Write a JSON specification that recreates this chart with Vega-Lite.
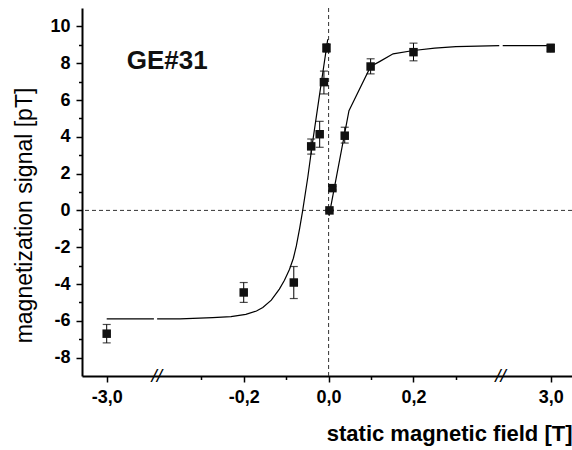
{
  "$schema": "https://vega.github.io/schema/vega-lite/v6.json",
  "width": 490,
  "height": 368,
  "autosize": {"type": "none"},
  "padding": {"left": 82, "top": 8, "right": 0, "bottom": 74},
  "background": "white",
  "config": {
    "view": {"stroke": null},
    "font": "Liberation Sans",
    "axis": {
      "grid": false,
      "domainColor": "black",
      "domainWidth": 2,
      "tickColor": "black",
      "tickWidth": 1.5,
      "tickSize": 6,
      "labelFont": "Liberation Sans",
      "labelFontSize": 18,
      "labelFontWeight": "bold",
      "labelColor": "black",
      "labelPadding": 6,
      "labelFlush": false,
      "titleFont": "Liberation Sans",
      "titleColor": "black"
    }
  },
  "datasets": {
    "pts": [
      {"x": -3.0, "y": -6.7, "lo": -7.2, "hi": -6.2},
      {"x": -0.2, "y": -4.46, "lo": -5.0, "hi": -3.92},
      {"x": -0.082, "y": -3.92, "lo": -4.79, "hi": -3.05},
      {"x": -0.041, "y": 3.48, "lo": 3.06, "hi": 3.88},
      {"x": -0.021, "y": 4.14, "lo": 3.43, "hi": 4.84},
      {"x": -0.011, "y": 6.97, "lo": 6.33, "hi": 7.57},
      {"x": -0.005, "y": 8.83, "lo": 8.6, "hi": 9.05},
      {"x": 0.002, "y": 0.0, "lo": -0.05, "hi": 0.05},
      {"x": 0.009, "y": 1.21, "lo": 1.11, "hi": 1.31},
      {"x": 0.038, "y": 4.06, "lo": 3.66, "hi": 4.52},
      {"x": 0.099, "y": 7.82, "lo": 7.42, "hi": 8.24},
      {"x": 0.2, "y": 8.6, "lo": 8.13, "hi": 9.09},
      {"x": 3.0, "y": 8.82, "lo": 8.6, "hi": 9.04}
    ],
    "curve": [
      {"seg": "L1", "x": -3.0, "y": -5.9},
      {"seg": "L1", "x": -0.55, "y": -5.9},
      {"seg": "L2", "x": -0.404, "y": -5.9},
      {"seg": "L2", "x": -0.35, "y": -5.9},
      {"seg": "L2", "x": -0.273, "y": -5.83},
      {"seg": "L2", "x": -0.23, "y": -5.77},
      {"seg": "L2", "x": -0.195, "y": -5.65},
      {"seg": "L2", "x": -0.17, "y": -5.47},
      {"seg": "L2", "x": -0.155, "y": -5.28},
      {"seg": "L2", "x": -0.135, "y": -4.88},
      {"seg": "L2", "x": -0.116, "y": -4.28},
      {"seg": "L2", "x": -0.104, "y": -3.8},
      {"seg": "L2", "x": -0.092, "y": -3.2},
      {"seg": "L2", "x": -0.083, "y": -2.6},
      {"seg": "L2", "x": -0.076, "y": -1.93},
      {"seg": "L2", "x": -0.068, "y": -0.95},
      {"seg": "L2", "x": -0.061, "y": 0.0},
      {"seg": "L2", "x": -0.049, "y": 1.8},
      {"seg": "L2", "x": -0.039, "y": 3.5},
      {"seg": "L2", "x": -0.02, "y": 6.5},
      {"seg": "L2", "x": -0.002, "y": 9.3},
      {"seg": "R1", "x": 0.001, "y": -0.3},
      {"seg": "R1", "x": 0.048, "y": 5.42},
      {"seg": "R1", "x": 0.099, "y": 7.82},
      {"seg": "R1", "x": 0.121, "y": 8.1},
      {"seg": "R1", "x": 0.152, "y": 8.51},
      {"seg": "R1", "x": 0.2, "y": 8.69},
      {"seg": "R1", "x": 0.25, "y": 8.82},
      {"seg": "R1", "x": 0.3, "y": 8.9},
      {"seg": "R1", "x": 0.402, "y": 8.95},
      {"seg": "R2", "x": 0.52, "y": 8.95},
      {"seg": "R2", "x": 3.0, "y": 8.95}
    ],
    "labels": [
      {"x": -1.96, "y": 7.69, "t": "GE#31"}
    ],
    "breaks": [
      {"x": -0.405, "y": -9, "t": "//"},
      {"x": 0.405, "y": -9, "t": "//"}
    ],
    "zero": [{"v": 0}]
  },
  "resolve": {"axis": {"x": "independent", "y": "independent"}},
  "layer": [
    {
      "data": {"name": "zero"},
      "mark": {"type": "rule", "strokeDash": [4, 3], "color": "#333333", "strokeWidth": 1},
      "encoding": {
        "y": {"field": "v", "type": "quantitative", "axis": null,
              "scale": {"domain": [-9, 11], "nice": false, "zero": false}}
      }
    },
    {
      "data": {"name": "zero"},
      "mark": {"type": "rule", "strokeDash": [4, 3], "color": "#333333", "strokeWidth": 1},
      "encoding": {
        "x": {"field": "v", "type": "quantitative", "axis": null,
              "scale": {"type": "linear", "domain": [-4.28, -3, -0.405, 0.405, 3, 4.1], "range": [0, 24.7, 74.7, 418.5, 468.7, 490], "nice": false, "zero": false}}
      }
    },
    {
      "data": {"name": "curve"},
      "mark": {"type": "line", "color": "black", "strokeWidth": 1.2},
      "encoding": {
        "x": {"field": "x", "type": "quantitative",
              "scale": {"type": "linear", "domain": [-4.28, -3, -0.405, 0.405, 3, 4.1], "range": [0, 24.7, 74.7, 418.5, 468.7, 490], "nice": false, "zero": false},
              "axis": {"orient": "bottom", "values": [-0.3, -0.1, 0.1, 0.3], "labels": false, "domain": false, "tickSize": 3.5, "title": null}},
        "y": {"field": "y", "type": "quantitative",
              "scale": {"domain": [-9, 11], "nice": false, "zero": false},
              "axis": {"orient": "left", "values": [-7, -5, -3, -1, 1, 3, 5, 7, 9], "labels": false, "domain": false, "tickSize": 3.5, "title": null}},
        "detail": {"field": "seg", "type": "nominal"}
      }
    },
    {
      "data": {"name": "pts"},
      "mark": {"type": "rule", "color": "black", "strokeWidth": 1},
      "encoding": {
        "x": {"field": "x", "type": "quantitative", "axis": null,
              "scale": {"type": "linear", "domain": [-4.28, -3, -0.405, 0.405, 3, 4.1], "range": [0, 24.7, 74.7, 418.5, 468.7, 490], "nice": false, "zero": false}},
        "y": {"field": "lo", "type": "quantitative", "axis": null,
              "scale": {"domain": [-9, 11], "nice": false, "zero": false}},
        "y2": {"field": "hi"}
      }
    },
    {
      "data": {"name": "pts"},
      "mark": {"type": "tick", "orient": "horizontal", "color": "black", "size": 8, "thickness": 1.2},
      "encoding": {
        "x": {"field": "x", "type": "quantitative", "axis": null,
              "scale": {"type": "linear", "domain": [-4.28, -3, -0.405, 0.405, 3, 4.1], "range": [0, 24.7, 74.7, 418.5, 468.7, 490], "nice": false, "zero": false}},
        "y": {"field": "lo", "type": "quantitative", "axis": null,
              "scale": {"domain": [-9, 11], "nice": false, "zero": false}}
      }
    },
    {
      "data": {"name": "pts"},
      "mark": {"type": "tick", "orient": "horizontal", "color": "black", "size": 8, "thickness": 1.2},
      "encoding": {
        "x": {"field": "x", "type": "quantitative", "axis": null,
              "scale": {"type": "linear", "domain": [-4.28, -3, -0.405, 0.405, 3, 4.1], "range": [0, 24.7, 74.7, 418.5, 468.7, 490], "nice": false, "zero": false}},
        "y": {"field": "hi", "type": "quantitative", "axis": null,
              "scale": {"domain": [-9, 11], "nice": false, "zero": false}}
      }
    },
    {
      "data": {"name": "pts"},
      "mark": {"type": "point", "shape": "square", "filled": true, "color": "#111111", "size": 72, "opacity": 1},
      "encoding": {
        "x": {"field": "x", "type": "quantitative",
              "scale": {"type": "linear", "domain": [-4.28, -3, -0.405, 0.405, 3, 4.1], "range": [0, 24.7, 74.7, 418.5, 468.7, 490], "nice": false, "zero": false},
              "axis": {"orient": "bottom", "values": [-3, -0.2, 0, 0.2, 3],
                       "labelExpr": "datum.value < 0 ? '-' + replace(format(-datum.value, '.1f'), '.', ',') : replace(format(datum.value, '.1f'), '.', ',')",
                       "title": "static magnetic field [T]", "titleFontSize": 22, "titleFontWeight": "bold",
                       "titleAnchor": "end", "titlePadding": 17}},
        "y": {"field": "y", "type": "quantitative",
              "scale": {"domain": [-9, 11], "nice": false, "zero": false},
              "axis": {"orient": "left", "values": [-8, -6, -4, -2, 0, 2, 4, 6, 8, 10],
                       "labelExpr": "datum.value < 0 ? '-' + (-datum.value) : '' + datum.value",
                       "title": "magnetization signal [pT]", "titleFontSize": 23, "titleFontWeight": "normal",
                       "titlePadding": 13, "titleY": 207}}
      }
    },
    {
      "data": {"name": "labels"},
      "mark": {"type": "text", "align": "left", "baseline": "alphabetic", "fontSize": 26, "fontWeight": "bold", "color": "#111111", "font": "Liberation Sans"},
      "encoding": {
        "x": {"field": "x", "type": "quantitative", "axis": null,
              "scale": {"type": "linear", "domain": [-4.28, -3, -0.405, 0.405, 3, 4.1], "range": [0, 24.7, 74.7, 418.5, 468.7, 490], "nice": false, "zero": false}},
        "y": {"field": "y", "type": "quantitative", "axis": null,
              "scale": {"domain": [-9, 11], "nice": false, "zero": false}},
        "text": {"field": "t"}
      }
    },
    {
      "data": {"name": "breaks"},
      "mark": {"type": "text", "align": "center", "baseline": "middle", "fontSize": 19, "fontStyle": "italic", "color": "black", "font": "Liberation Sans"},
      "encoding": {
        "x": {"field": "x", "type": "quantitative", "axis": null,
              "scale": {"type": "linear", "domain": [-4.28, -3, -0.405, 0.405, 3, 4.1], "range": [0, 24.7, 74.7, 418.5, 468.7, 490], "nice": false, "zero": false}},
        "y": {"field": "y", "type": "quantitative", "axis": null,
              "scale": {"domain": [-9, 11], "nice": false, "zero": false}},
        "text": {"field": "t"}
      }
    }
  ]
}
